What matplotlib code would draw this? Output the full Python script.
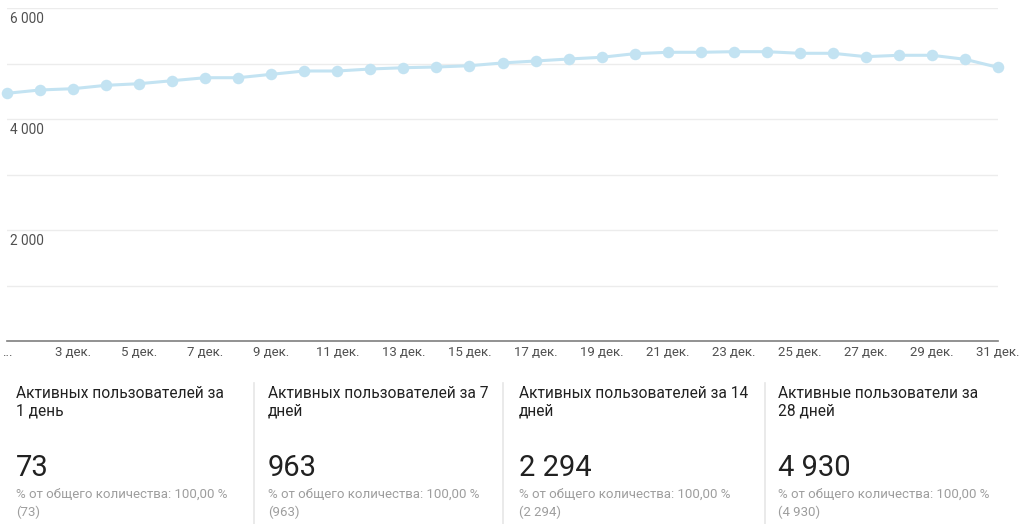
import matplotlib
matplotlib.use("Agg")
import matplotlib.pyplot as plt
import matplotlib.transforms as mtransforms

plt.rcParams['font.family'] = ['Roboto', 'DejaVu Sans']

days = list(range(1, 32))
active_28d = [4463, 4523, 4546, 4607, 4636, 4690, 4744, 4744, 4805, 4865,
              4865, 4901, 4924, 4937, 4960, 5010, 5045, 5081, 5112, 5177,
              5202, 5202, 5213, 5213, 5184, 5184, 5123, 5148, 5148, 5076, 4930]
x_labels = ["..."] + [f"{d} дек." for d in range(3, 32, 2)]
x_label_days = list(range(1, 32, 2))
y_gridlines = [0, 1000, 2000, 3000, 4000, 5000, 6000]
y_labels = {6000: "6 000", 4000: "4 000", 2000: "2 000"}

card_titles = [("Активных пользователей за", "1 день"),
               ("Активных пользователей за 7", "дней"),
               ("Активных пользователей за 14", "дней"),
               ("Активные пользователи за", "28 дней")]
card_values = ["73", "963", "2 294", "4 930"]
card_pct = ["100,00 %"] * 4
card_totals = ["(73)", "(963)", "(2 294)", "(4 930)"]

W, H = 1024, 524
fig = plt.figure(figsize=(W / 100, H / 100), dpi=100)
fig.patch.set_facecolor("white")

def fx(px):
    return px / W

def fy(py):
    return 1 - py / H

ax = fig.add_axes([fx(7), fy(341), fx(998) - fx(7), fy(8) - fy(341)])
ax.set_xlim(1, 31)
ax.set_ylim(0, 6000)
for s in ax.spines.values():
    s.set_visible(False)
ax.set_xticks([])
ax.set_yticks([])

for g in y_gridlines[1:]:
    ax.axhline(g, color="#ececec", lw=1.0, zorder=1)
ax.axhline(0, color="#7f7f7f", lw=1.2, zorder=2, clip_on=False)

line_color = "#c3e3f2"
ax.plot(days, active_28d, color=line_color, lw=2.2, zorder=3, clip_on=False)
ax.plot(days, active_28d, 'o', color=line_color, ms=8.3, zorder=4, clip_on=False,
        markeredgewidth=0)

for v, lab in y_labels.items():
    ax.text(1, v, lab, transform=mtransforms.offset_copy(ax.transData, fig=fig,
            x=3 * 0.72, y=-11 * 0.72, units='points'),
            ha='left', va='center', fontsize=9.8, color="#505050")

for d, lab in zip(x_label_days, x_labels):
    ax.text(d, 0, lab, transform=mtransforms.offset_copy(ax.transData, fig=fig,
            x=0, y=-12 * 0.72, units='points'),
            ha='center', va='center', fontsize=9.5, color="#505050", clip_on=False)

col_x = [16, 268, 519, 778]
sep_x = [254, 503, 765]
for sx in sep_x:
    fig.add_artist(plt.Line2D([fx(sx), fx(sx)], [fy(383), fy(524)],
                              color="#e6e6e6", lw=1.2, transform=fig.transFigure))

for cx, (t1, t2), val, pct, tot in zip(col_x, card_titles, card_values, card_pct, card_totals):
    fig.text(fx(cx), fy(398), t1, fontsize=11.2, color="#212121", va='baseline', ha='left')
    fig.text(fx(cx), fy(416), t2, fontsize=11.2, color="#212121", va='baseline', ha='left')
    fig.text(fx(cx), fy(476), val, fontsize=21, color="#212121", va='baseline', ha='left')
    fig.text(fx(cx), fy(498), f"% от общего количества: {pct}", fontsize=9.5,
             color="#9e9e9e", va='baseline', ha='left')
    fig.text(fx(cx), fy(516), tot, fontsize=9.5, color="#9e9e9e", va='baseline', ha='left')

fig.savefig("out.png", dpi=100, facecolor="white")
